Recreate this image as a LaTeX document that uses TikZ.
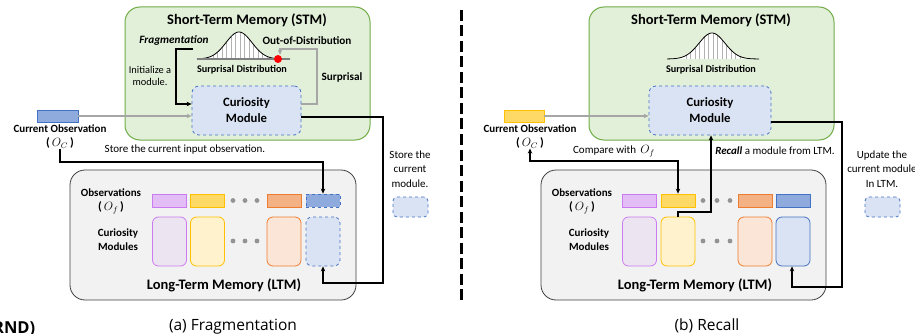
\documentclass[tikz,border=0pt]{standalone}
\usepackage{fontspec}
\setmainfont{Carlito}
\newfontfamily\capfont{Open Sans}
\usetikzlibrary{arrows.meta}
\definecolor{stmfill}{HTML}{E2F0D9}
\definecolor{stmdraw}{HTML}{70AD47}
\definecolor{ltmfill}{HTML}{F2F2F2}
\definecolor{ltmdraw}{HTML}{404040}
\definecolor{pufill}{HTML}{E3BDF6}
\definecolor{pudraw}{HTML}{CC7AF0}
\definecolor{pulight}{HTML}{EDE4F2}
\definecolor{yefill}{HTML}{FFD966}
\definecolor{yedraw}{HTML}{FFC000}
\definecolor{yelight}{HTML}{FFF2CC}
\definecolor{orfill}{HTML}{F4B183}
\definecolor{ordraw}{HTML}{ED7D31}
\definecolor{orlight}{HTML}{FBE5D6}
\definecolor{blfill}{HTML}{8FAADC}
\definecolor{bldraw}{HTML}{4472C4}
\definecolor{bllight}{HTML}{DAE3F3}
\definecolor{arrgray}{HTML}{A6A6A6}
\definecolor{basegray}{HTML}{7F7F7F}
\tikzset{
  stmbox/.style={draw=stmdraw, fill=stmfill, line width=1pt, rounded corners=15pt, inner sep=0},
  ltmbox/.style={draw=ltmdraw, fill=ltmfill, line width=0.8pt, rounded corners=15pt, inner sep=0},
  curbox/.style={draw=bldraw, fill=bllight, dashed, line width=0.8pt, rounded corners=7pt, align=center, font=\fontsize{12.7}{16}\selectfont\bfseries, inner sep=0},
  obsrect/.style={line width=0.8pt, minimum width=34pt, minimum height=13pt, inner sep=0},
  modrect/.style={line width=0.8pt, minimum width=34pt, minimum height=49pt, rounded corners=6pt, inner sep=0},
  dotc/.style={circle, fill=gray!85, inner sep=0, minimum size=4.8pt},
  lbl/.style={font=\fontsize{11}{14.5}\selectfont, align=center, inner sep=0},
  blbl/.style={font=\fontsize{11}{14}\selectfont\bfseries, align=center, inner sep=0},
  mathlbl/.style={font=\fontsize{12}{14}\selectfont, inner sep=0},
  ttl/.style={font=\fontsize{14.5}{17}\selectfont\bfseries, inner sep=0},
  captext/.style={font=\capfont\fontsize{15.5}{18}\selectfont, inner sep=0, anchor=base},
  blk/.style={line width=1.6pt, -{Stealth[length=5pt,width=4.5pt]}},
  gry/.style={line width=1.5pt, draw=arrgray, -{Stealth[length=5pt,width=4.5pt]}},
}
\begin{document}
\begin{tikzpicture}[x=1pt,y=-1pt]
\useasboundingbox (0,0) rectangle (915,334);
\fill[white] (0,0) rectangle (915,334);

%================ LEFT PANEL =================
\node[stmbox, minimum width=245pt, minimum height=133pt] (stmL) at (247.5,73.5) {};
\node[ttl] (stmLt) at (247,20) {Short-Term Memory (STM)};
% bell curve
\fill[white] (200,59) -- plot[domain=200:284, samples=60] (\x,{59-27*exp(-((\x-239)^2)/338)}) -- cycle;
\foreach \x in {213,217.5,...,278} \draw[gray!60, line width=0.4pt] (\x,59) -- (\x,{59-27*exp(-((\x-239)^2)/338)});
\draw[line width=0.8pt] plot[domain=197:290, samples=80] (\x,{59-27*exp(-((\x-239)^2)/338)});
\draw[basegray, line width=2.2pt] (197,59) -- (290,59);
\node[circle, fill=red, inner sep=0, minimum size=8pt] (rdot) at (278,59) {};
\node[blbl, font=\fontsize{10.2}{12}\selectfont\bfseries] (sdL) at (242,70) {Surprisal Distribution};
\node[blbl, font=\fontsize{11.2}{13}\selectfont\bfseries\itshape] (frag) at (174,41) {Fragmentation};
\node[blbl, font=\fontsize{11.2}{13}\selectfont\bfseries] (ood) at (307,41) {Out-of-Distribution};
\node[lbl, font=\fontsize{10.4}{12.5}\selectfont] (init) at (150,76) {Initialize a\\module.};
\node[blbl, font=\fontsize{11.2}{13}\selectfont\bfseries] (surp) at (342,77) {Surprisal};
\node[curbox, minimum width=109pt, minimum height=49pt] (cmL) at (246.5,110.5) {Curiosity\\Module};
\coordinate (fragstart) at (193,49);
\draw[blk] (fragstart) -- (176,49) -- (176,104) -- (cmL.west |- 0,104);
\draw[gry] (cmL.east |- 0,104) -- (317,104) -- (317,49) -- (280,49) -- (rdot.north -| 280,0);
% current observation
\node[obsrect, draw=bldraw, fill=blfill, minimum width=41pt, minimum height=12pt] (ocL) at (57.5,116) {};
\draw[gry] (ocL.east) -- (cmL.west |- ocL.east);
\node[blbl] (coL) at (60,129) {Current Observation};
\node[mathlbl] (ocLm) at (60,143) {\bfseries(\,$O_C$\,)};
\node[lbl] (storeobs) at (185,150) {Store the current input observation.};
\node[lbl] (storemod) at (410,169) {Store the\\current\\module.};
\node[obsrect, draw=bldraw, fill=bllight, dashed, minimum width=35pt, minimum height=20pt, rounded corners=4pt] (smL) at (410.5,207) {};
% LTM
\node[ltmbox, minimum width=286pt, minimum height=130pt] (ltmL) at (213,235) {};
\node[blbl] (obsL) at (111,193) {Observations};
\node[mathlbl] (ofL) at (111,208) {\bfseries(\,$O_f$\,)};
\node[blbl] (cmodL) at (118,240) {Curiosity\\Modules};
\node[obsrect, draw=pudraw, fill=pufill] (o1L) at (169.5,200.5) {};
\node[obsrect, draw=yedraw, fill=yefill] (o2L) at (207.5,200.5) {};
\node[obsrect, draw=ordraw, fill=orfill] (o3L) at (284,200.5) {};
\node[obsrect, draw=bldraw, fill=blfill, dashed] (o4L) at (323,200.5) {};
\node[modrect, draw=pudraw, fill=pulight] (m1L) at (169.5,241.5) {};
\node[modrect, draw=yedraw, fill=yelight] (m2L) at (207.5,241.5) {};
\node[modrect, draw=ordraw, fill=orlight] (m3L) at (284,241.5) {};
\node[modrect, draw=bldraw, fill=bllight, dashed] (m4L) at (323,241.5) {};
\foreach \x/\n in {233/a,245/b,257/c} {
  \node[dotc] (d1\n L) at (\x,200.5) {};
  \node[dotc] (d2\n L) at (\x,241) {};
}
\node[ttl] (ltmLt) at (224,285) {Long-Term Memory (LTM)};
\draw[blk] (ocLm.south) -- (60,162) -- (323,162) -- (o4L.north);
\draw[blk] (cmL.east |- 0,117) -- (383,117) -- (383,283) -- (323,283) -- (m4L.south);
\node[captext] (capa) at (233,330) {(a) Fragmentation};
\node[font=\capfont\fontsize{16.5}{18}\selectfont\bfseries, inner sep=0, anchor=base east] (rnd) at (35.5,333.5) {(RND)};

% divider
\draw[line width=3pt, dash pattern=on 11pt off 4.5pt] (461,10) -- (461,303);

%================ RIGHT PANEL =================
\node[stmbox, minimum width=245pt, minimum height=133pt] (stmR) at (711.5,73.5) {};
\node[ttl] (stmRt) at (711,20) {Short-Term Memory (STM)};
\fill[white] (672,59) -- plot[domain=672:752, samples=60] (\x,{59-26*exp(-((\x-712)^2)/338)}) -- cycle;
\foreach \x in {686,690.5,...,740} \draw[gray!60, line width=0.4pt] (\x,59) -- (\x,{59-26*exp(-((\x-712)^2)/338)});
\draw[line width=0.8pt] plot[domain=667:759, samples=80] (\x,{59-26*exp(-((\x-712)^2)/338)});
\node[blbl, font=\fontsize{10.2}{12}\selectfont\bfseries] (sdR) at (711,70) {Surprisal Distribution};
\node[curbox, minimum width=122pt, minimum height=49pt] (cmR) at (710,110.5) {Curiosity\\Module};
\node[obsrect, draw=yedraw, fill=yefill, minimum width=40pt, minimum height=12pt] (ocR) at (524,116) {};
\draw[gry] (ocR.east) -- (cmR.west |- ocR.east);
\node[blbl] (coR) at (530,129) {Current Observation};
\node[mathlbl] (ocRm) at (530,143) {\bfseries(\,$O_C$\,)};
\node[lbl] (cmp) at (614,151) {Compare with \,{\fontsize{12}{14}\selectfont$O_f$}};
\node[lbl] (rec) at (775,151) {\textbf{\textit{Recall}} a module from LTM.};
\node[lbl] (upd) at (882,169) {Update the\\current module\\In LTM.};
\node[obsrect, draw=bldraw, fill=bllight, dashed, minimum width=35pt, minimum height=20pt, rounded corners=4pt] (smR) at (882.5,207) {};
\node[ltmbox, minimum width=285pt, minimum height=130pt] (ltmR) at (683.5,235) {};
\node[blbl] (obsR) at (582,193) {Observations};
\node[mathlbl] (ofR) at (582,208) {\bfseries(\,$O_f$\,)};
\node[blbl] (cmodR) at (589,240) {Curiosity\\Modules};
\node[obsrect, draw=pudraw, fill=pufill] (o1R) at (639.5,200.5) {};
\node[obsrect, draw=yedraw, fill=yefill] (o2R) at (678,200.5) {};
\node[obsrect, draw=ordraw, fill=orfill] (o3R) at (755,200.5) {};
\node[obsrect, draw=bldraw, fill=blfill] (o4R) at (793,200.5) {};
\node[modrect, draw=pudraw, fill=pulight] (m1R) at (639.5,241.5) {};
\node[modrect, draw=yedraw, fill=yelight] (m2R) at (678,241.5) {};
\node[modrect, draw=ordraw, fill=orlight] (m3R) at (755,241.5) {};
\node[modrect, draw=bldraw, fill=bllight] (m4R) at (793,241.5) {};
\foreach \x/\n in {703/a,717/b,730/c} {
  \node[dotc] (d1\n R) at (\x,200.5) {};
  \node[dotc] (d2\n R) at (\x,241) {};
}
\node[ttl] (ltmRt) at (695,285) {Long-Term Memory (LTM)};
\draw[line width=1.6pt, {Stealth[length=5pt,width=4.5pt]}-{Stealth[length=5pt,width=4.5pt]}] (ocRm.south) -- (530,161) -- (678,161) -- (o2R.north);
\draw[blk] (m2R.north) -- (678,212) -- (711,212) -- (cmR.south -| 711,0);
\draw[blk] (cmR.east |- 0,122) -- (842,122) -- (842,287) -- (792,287) -- (m4R.south -| 792,0);
\node[captext] (capb) at (707,330) {(b) Recall};
\end{tikzpicture}
\end{document}
